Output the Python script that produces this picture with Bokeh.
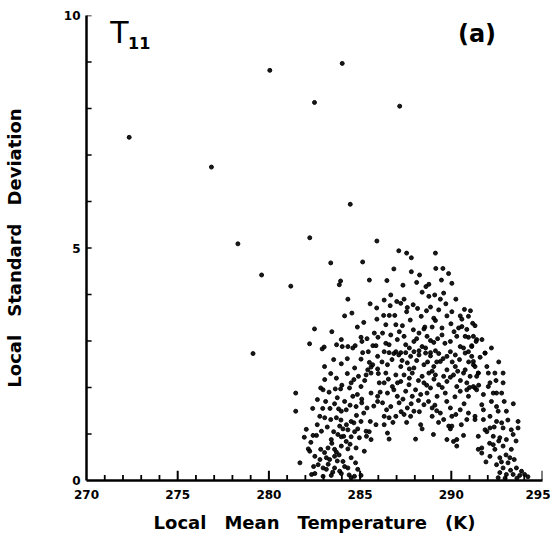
from bokeh.plotting import figure
from bokeh.models import Range1d, FixedTicker, Label
from bokeh.embed import file_html
from bokeh.resources import INLINE

# (local mean temperature K, local standard deviation)
outliers = [(272.34,7.38),(276.85,6.74),(280.05,8.82),(284.02,8.97),(282.50,8.13),(287.17,8.05),
            (284.46,5.94),(278.30,5.09),(279.60,4.42),(281.20,4.18),(279.13,2.73),(282.24,5.22),(285.92,5.15)]

upper_left = [(283.39,4.68),(285.14,4.70),(283.93,4.29),(283.86,4.21),(285.51,4.31),(284.33,3.90),(285.91,3.71),
              (284.15,3.54),(285.92,3.47),(284.85,3.30),(282.50,3.26),(283.97,3.03),(285.05,3.08),(285.10,2.99),
              (285.38,3.05),(285.78,3.17),(285.98,3.08),(282.23,2.94),(283.03,2.87),(282.92,2.83),(283.71,2.92),
              (284.02,2.88),(284.33,2.88),(284.73,2.90),(285.45,2.77),(285.87,2.90),(285.14,2.75)]

upper_mid = [(287.12,4.94),(287.55,4.89),(287.81,4.79),(289.13,4.89),(289.15,4.56),(289.54,4.56),(287.81,4.49),
             (288.26,4.42),(286.47,4.30),(289.46,4.31),(288.10,4.26),(288.61,4.17),(288.77,4.22),(290.03,4.24),
             (289.58,4.03),(288.77,3.96),(289.09,3.99),(289.40,3.90),(286.68,3.99),(286.32,3.88),(287.01,3.85),
             (287.23,3.81),(287.41,3.90),(286.65,3.76),(287.91,3.78),(287.59,3.72),(287.55,3.63),(288.86,3.73),
             (288.64,3.65),(289.31,3.67),(290.03,3.63),(290.72,3.68),(286.29,3.55),(288.35,3.53),(289.04,3.49),
             (289.13,3.44),(289.76,3.54),(290.49,3.54),(290.58,3.47),(290.94,3.53),(286.41,3.35),(286.96,3.35),
             (287.32,3.33),(287.92,3.24),(288.50,3.26),(288.95,3.30),(289.49,3.28),(289.98,3.37),(290.40,3.28),
             (290.58,3.31),(291.30,3.33),(286.23,3.17),(286.68,3.13),(287.41,3.10),(288.23,3.17),(288.67,3.10),
             (289.49,3.13),(290.30,3.10),(290.76,3.10),(290.94,3.08),(291.39,3.03),(286.41,2.95),(286.59,2.92),
             (287.04,3.03),(287.50,2.92),(287.95,2.99),(288.40,2.88),(288.59,2.85),(288.86,3.01),(289.04,2.97),
             (289.95,2.99),(290.49,2.88),(290.67,2.85),(291.12,2.90),(286.32,2.77),(286.59,2.75),(286.96,2.77),
             (287.23,2.75),(287.95,2.77),(288.23,2.79),(288.86,2.75),(289.13,2.79),(289.95,2.77),(290.94,2.77)]

upper_right = [(291.17,3.38),(291.21,3.10),(291.36,2.99),(291.68,3.03),(291.12,2.88),(291.85,2.74)]

lower_left = [(283.97,2.51),(285.05,2.61),(285.51,2.54),(285.69,2.49),(285.96,2.67),(283.39,2.30),(283.06,2.17),
              (283.70,2.20),(284.51,2.10),(284.66,2.17),(284.91,2.24),(285.33,2.27),(285.60,2.31),(286.05,2.10),
              (281.47,1.88),(282.84,1.99),(282.97,1.95),(283.64,1.97),(283.93,1.97),(284.42,1.99),(285.05,2.02),
              (284.60,1.81),(285.09,1.75),(285.09,1.67),(285.60,1.88),(285.96,1.81),(285.96,1.70),(282.66,1.74),
              (283.11,1.70),(283.60,1.65),(283.82,1.54),(283.97,1.49),(284.24,1.52),(284.78,1.59),(285.38,1.56),
              (281.47,1.49),(282.79,1.38),(283.06,1.35),(283.39,1.31),(283.70,1.35),(284.51,1.27),(284.66,1.24),
              (285.05,1.27),(285.56,1.27),(285.87,1.20),(283.88,1.17),(284.06,1.11),(284.33,1.09),(284.87,1.11),
              (285.33,1.06),(282.88,1.06),(282.42,0.97),(282.61,0.97),(281.94,0.93),(283.78,0.99),(283.97,0.94),
              (284.51,0.94),(284.96,0.92),(283.42,0.88),(284.24,0.84),(285.60,0.88),(282.16,0.68),(282.24,0.63),
              (282.84,0.67),(283.24,0.70),(283.60,0.67),(283.70,0.61),(283.97,0.74),(284.33,0.68),(284.78,0.70),
              (285.23,0.63),(282.52,0.52),(283.15,0.49),(283.33,0.45),(283.60,0.52),(284.06,0.41),(284.51,0.49),
              (281.70,0.38),(282.70,0.34),(282.97,0.27),(283.15,0.24),(283.60,0.27),(283.88,0.20),(283.97,0.15),
              (284.33,0.27),(284.87,0.24),(282.34,0.13),(282.52,0.15),(282.97,0.09),(283.42,0.11),(284.51,0.06),
              (284.69,0.09),(285.05,0.11),(285.42,2.38),(285.60,2.44),(285.96,2.40)]

lower_left_more = [(282.45,0.30),(282.80,0.45),(283.25,0.35),(283.50,0.18),(283.75,0.42),(284.15,0.30),(284.40,0.12),
                   (284.75,0.38),(283.05,0.60),(283.45,0.80),(283.85,0.55),(284.10,0.95),(284.45,0.78),(284.70,1.05),
                   (283.20,1.15),(283.55,1.05),(283.95,1.30),(284.25,1.20),(284.80,1.40),(283.35,1.55),(283.75,1.78),
                   (284.15,1.70),(284.45,1.62),(284.85,1.85),(283.30,1.90),(284.00,2.05),(284.30,2.30),(284.70,2.42),
                   (285.25,2.15),(285.20,1.45),(285.50,1.05),(285.75,1.60),(285.35,0.95),(282.30,0.82),(282.65,1.20),
                   (282.05,1.10),(282.95,1.55),(282.40,1.55),(283.05,2.45),(283.55,2.60),(284.30,2.62),(284.60,2.85),
                   (283.45,3.20),(284.55,3.60),(285.20,3.40),(285.55,3.80),(285.70,2.90)]

lower_mid = [(286.85,2.73),(287.12,2.70),(287.50,2.75),(287.77,2.67),(288.23,2.70),(288.59,2.74),(288.86,2.68),
             (289.31,2.73),(289.76,2.67),(290.22,2.70),(290.76,2.74),(291.12,2.67),(286.50,2.49),(287.23,2.45),
             (287.59,2.53),(287.95,2.42),(288.50,2.49),(289.04,2.45),(289.40,2.56),(289.76,2.38),(290.22,2.45),
             (290.76,2.38),(291.21,2.49),(286.41,2.31),(286.96,2.27),(287.41,2.27),(287.86,2.31),(288.40,2.24),
             (288.77,2.31),(289.13,2.27),(289.58,2.24),(290.12,2.27),(290.67,2.31),(291.03,2.24),(291.48,2.31),
             (286.32,2.10),(286.77,2.02),(287.23,2.13),(287.68,2.06),(288.04,1.95),(288.50,2.10),(288.86,1.99),
             (289.31,2.06),(289.76,2.13),(290.30,2.02),(290.85,2.10),(291.30,1.99),(286.50,1.88),(287.04,1.81),
             (287.50,1.92),(287.86,1.81),(288.32,1.85),(288.67,1.88),(289.22,1.81),(289.67,1.88),(290.49,1.92),
             (290.94,1.81),(286.23,1.67),(286.68,1.59),(287.14,1.67),(287.59,1.56),(287.95,1.49),(288.50,1.63),
             (288.95,1.56),(289.40,1.45),(289.95,1.56),(290.49,1.52),(290.94,1.45),(286.32,1.38),(286.59,1.35),
             (286.96,1.38),(287.41,1.42),(287.77,1.38),(288.95,1.38),(289.58,1.31),(290.03,1.38),(290.85,1.31),
             (291.30,1.38),(286.32,1.20),(288.32,1.20),(288.40,1.11),(289.86,1.17),(289.95,1.11),(290.03,1.17),
             (286.50,1.02),(286.59,0.89),(288.04,0.89),(289.76,0.88),(290.12,0.84),(290.30,0.88),(290.67,0.97),
             (290.30,0.74),(291.48,0.67),(289.02,0.99)]

mid_more = [(286.20,2.55),(286.75,2.60),(287.30,2.58),(287.70,2.85),(288.10,2.58),(288.70,2.55),(289.20,2.55),
            (289.55,2.62),(290.05,2.55),(290.45,2.60),(290.95,2.55),(286.55,2.18),(287.05,2.10),(287.70,2.20),
            (288.20,2.15),(288.65,2.05),(289.05,2.18),(289.50,2.00),(289.95,2.22),(290.50,2.15),(291.00,2.00),
            (286.85,1.95),(287.35,1.75),(287.80,1.65),(288.20,1.72),(288.75,1.70),(289.10,1.62),(289.75,1.70),
            (290.20,1.80),(290.70,1.65),(286.45,1.52),(287.25,1.48),(288.25,1.48),(289.20,1.50),(290.25,1.42),
            (286.80,1.25),(287.55,1.25),(289.30,1.25),(290.55,1.20),(286.10,1.90),(286.00,2.30),(286.90,3.55),
            (287.75,3.45),(288.15,3.70),(289.70,3.80),(290.25,3.90),(288.40,4.05),(286.85,4.55),(287.35,4.20),
            (289.85,4.45),(288.55,3.30),(289.25,3.05),(290.15,3.20),(287.15,3.20),(286.60,3.55),(290.85,3.25),
            (291.05,3.65),(288.10,3.05),(289.65,2.95),(287.70,2.40),(288.95,2.35),(290.35,2.35),(290.85,1.95),
            (291.50,2.05)]

lower_right = [(291.85,2.74),(291.58,2.65),(291.21,2.56),(291.30,2.45),(291.48,2.31),(291.39,2.24),(292.03,2.31),
               (292.39,2.31),(292.84,2.31),(292.12,2.10),(292.03,2.02),(292.84,2.10),(291.21,2.02),(291.39,1.95),
               (292.48,1.88),(292.76,1.88),(291.76,1.85),(292.30,1.88),(291.67,1.63),(291.76,1.52),(292.48,1.59),
               (292.57,1.49),(293.02,1.49),(291.30,1.31),(291.76,1.31),(292.12,1.38),(292.48,1.27),(292.76,1.24),
               (293.66,1.27),(291.85,1.09),(292.12,1.13),(292.84,1.13),(293.29,1.09),(293.66,1.13),(291.48,0.95),
               (292.30,0.95),(292.66,0.92),(293.02,0.88),(293.39,0.99),(291.67,0.70),(292.30,0.77),(292.39,0.67),
               (292.84,0.74),(293.29,0.67),(291.67,0.59),(292.12,0.52),(292.66,0.49),(293.21,0.49),(292.48,0.34),
               (292.84,0.27),(293.11,0.38),(293.57,0.27),(292.66,0.17),(293.02,0.13),(293.39,0.13),(293.75,0.11),
               (294.02,0.13),(292.57,0.06)]

lower_right_more = [(292.20,1.70),(292.90,1.70),(292.35,1.15),(293.10,1.30),(292.60,0.85),(293.55,0.85),(292.10,0.80),
                    (293.00,0.55),(293.45,0.45),(292.75,0.40),(293.25,0.22),(293.60,0.05),(293.85,0.20),(292.95,0.05),
                    (294.20,0.08),(292.45,2.15),(291.95,2.45),(292.60,2.55),(292.20,2.85),(291.95,1.05),(291.90,0.40),
                    (293.40,1.65)]

x_ticks = [270, 275, 280, 285, 290, 295]
x_minor = list(range(270, 296))
y_ticks = [0, 5, 10]
y_minor = list(range(1, 11))

groups = [outliers, upper_left, upper_mid, upper_right, lower_left, lower_left_more,
          lower_mid, mid_more, lower_right, lower_right_more]
temp_k = [pt[0] for g in groups for pt in g]
local_sd = [pt[1] for g in groups for pt in g]

FONT = "DejaVu Sans"
X0, Y0 = 270.0, 0.0

p = figure(width=550, height=535, output_backend="svg", toolbar_location=None,
           x_range=Range1d(270, 295), y_range=Range1d(0, 10),
           min_border_left=82, min_border_right=8, min_border_top=15, min_border_bottom=54)
p.outline_line_color = None
p.grid.visible = False

# inward tick marks, drawn at the tick values (lengths in data units)
major_len_x = 0.21
minor_len_x = 0.12
tick_len_y = 0.28
xm = [float(t) for t in x_minor if t not in x_ticks]
xM = [float(t) for t in x_ticks[1:]]
p.segment(x0=xM, y0=[Y0] * len(xM), x1=xM, y1=[major_len_x] * len(xM),
          line_color="black", line_width=2)
p.segment(x0=xm, y0=[Y0] * len(xm), x1=xm, y1=[minor_len_x] * len(xm),
          line_color="black", line_width=1.8)
p.segment(x0=[X0] * len(y_minor), y0=y_minor, x1=[X0 + tick_len_y] * len(y_minor), y1=y_minor,
          line_color="black", line_width=1.6)

p.scatter(temp_k, local_sd, size=4, color="black", alpha=0.9)

for ax in (p.xaxis[0], p.yaxis[0]):
    ax.axis_line_width = 2.5
    ax.axis_line_color = "black"
    ax.major_tick_line_color = None
    ax.minor_tick_line_color = None
    ax.major_tick_in = 0
    ax.major_tick_out = 0
    ax.minor_tick_in = 0
    ax.minor_tick_out = 0
    ax.major_label_text_font = FONT
    ax.major_label_text_font_style = "bold"
    ax.major_label_text_font_size = "12px"
    ax.major_label_text_color = "black"
    ax.axis_label_text_font = FONT
    ax.axis_label_text_font_style = "bold"
    ax.axis_label_text_font_size = "18px"
    ax.axis_label_text_color = "black"

p.xaxis.ticker = FixedTicker(ticks=x_ticks)
p.xaxis.major_label_standoff = 9
p.xaxis.axis_label = "Local\u2003Mean\u2003Temperature\u2003(K)"
p.xaxis.axis_label_standoff = 10

p.yaxis.ticker = FixedTicker(ticks=y_ticks)
p.yaxis.major_label_standoff = 6
p.yaxis.axis_label = "Local\u2003Standard\u2003Deviation"
p.yaxis.axis_label_standoff = 36

p.add_layout(Label(x=271.3, y=9.64, text="T", text_font=FONT,
                   text_font_size="30px", text_baseline="alphabetic", text_color="black"))
p.add_layout(Label(x=272.28, y=9.40, text="11", text_font=FONT, text_font_style="bold",
                   text_font_size="16px", text_baseline="alphabetic", text_color="black"))
p.add_layout(Label(x=291.41, y=9.61, text="(a)", text_font=FONT, text_font_style="bold",
                   text_font_size="24px", text_align="center", text_baseline="middle", text_color="black"))

open("out.html", "w").write(file_html(p, INLINE))
